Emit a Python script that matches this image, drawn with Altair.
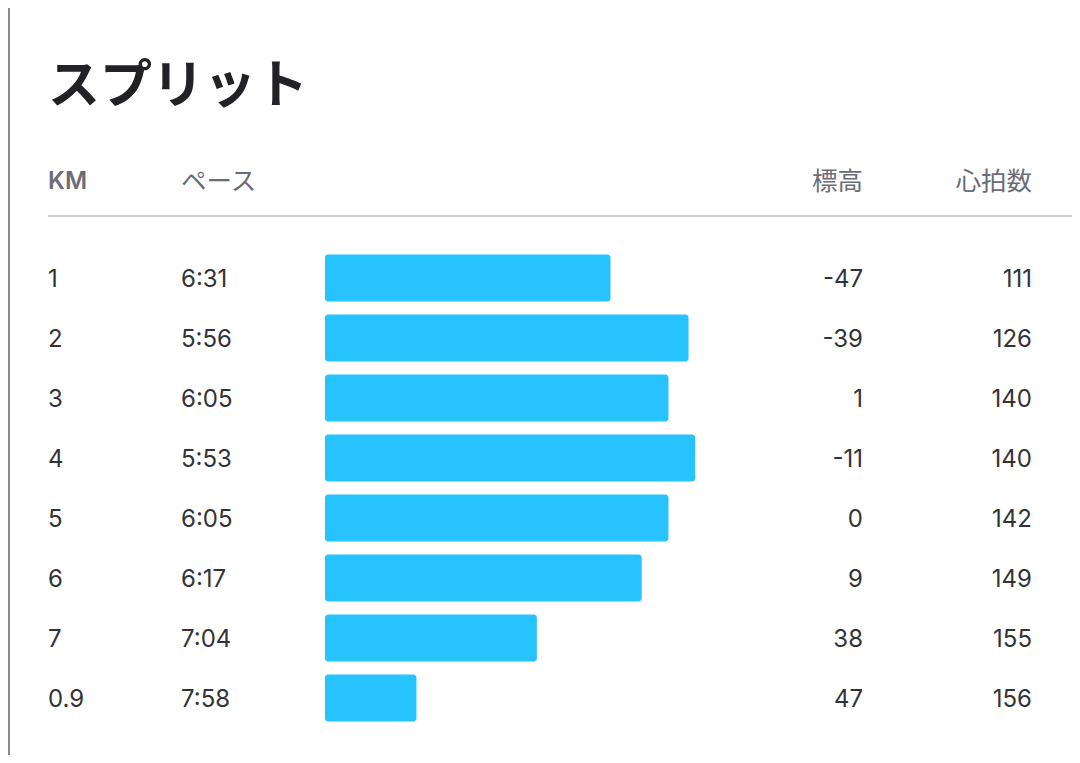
import altair as alt
import pandas as pd

# ---- data ----
km_labels = ["1", "2", "3", "4", "5", "6", "7", "0.9"]
pace_labels = ["6:31", "5:56", "6:05", "5:53", "6:05", "6:17", "7:04", "7:58"]
elevation = [-47, -39, 1, -11, 0, 9, 38, 47]
heart_rate = [111, 126, 140, 140, 142, 149, 155, 156]

title_text = "スプリット"
headers = ["KM", "ペース", "標高", "心拍数"]


def to_seconds(s):
    m, sec = s.split(":")
    return int(m) * 60 + int(sec)


pace_seconds = [to_seconds(p) for p in pace_labels]
BAR_BASE = 519  # pace (s) at which the bar would have zero length

df = pd.DataFrame({
    "row": list(range(len(km_labels))),
    "km": km_labels,
    "pace": pace_labels,
    "pace_s": pace_seconds,
    "elev": [str(e) for e in elevation],
    "hr": [str(h) for h in heart_rate],
})

W, H = 1064, 747
JP = "Noto Sans CJK JP"
NUM = "Inter"
TEXT_COL = "#333337"
HEAD_COL = "#6c6c76"

yscale = alt.Scale(domain=[0, 7], range=[270, 690])
xscale = alt.Scale(domain=[BAR_BASE, 300], range=[317, 805.4])

base = alt.Chart(df)

bars = base.mark_rect(color="#27c3fe", cornerRadius=3).transform_calculate(
    y0="datum.row - 0.392", y1="datum.row + 0.392", base=str(BAR_BASE)
).encode(
    x=alt.X("base:Q", scale=xscale, axis=None),
    x2="pace_s:Q",
    y=alt.Y("y0:Q", scale=yscale, axis=None),
    y2="y1:Q",
)


def col_text(field, xpos, align):
    return base.mark_text(
        font=NUM, fontSize=24, color=TEXT_COL, align=align, baseline="middle",
        dy=2
    ).encode(
        x=alt.value(xpos),
        y=alt.Y("row:Q", scale=yscale, axis=None),
        text=f"{field}:N",
    )


t_km = col_text("km", 40, "left")
t_pace = col_text("pace", 173, "left")
t_elev = col_text("elev", 855, "right")
t_hr = col_text("hr", 1024, "right")

head_df = pd.DataFrame({
    "label": headers,
    "xpos": [40, 173, 855, 1024],
    "align": ["left", "left", "right", "right"],
})


def header(i):
    d = pd.DataFrame({"label": [headers[i]]})
    is_km = headers[i] == "KM"
    return alt.Chart(d).mark_text(
        font=NUM if is_km else JP,
        fontSize=24 if is_km else 25.5,
        fontWeight=600 if is_km else "normal",
        color=HEAD_COL, align=head_df["align"][i], baseline="middle"
    ).encode(
        x=alt.value(float(head_df["xpos"][i])),
        y=alt.value(174),
        text="label:N",
    )


headers_layer = [header(i) for i in range(len(headers))]

title = alt.Chart(pd.DataFrame({"t": [title_text]})).mark_text(
    font=JP, fontSize=52, fontWeight="bold", color="#222226",
    align="left", baseline="alphabetic"
).encode(x=alt.value(40), y=alt.value(95), text="t:N")

rule = alt.Chart(pd.DataFrame({"a": [0]})).mark_rule(
    color="#cccccc", strokeWidth=2
).encode(x=alt.value(40), x2=alt.value(W), y=alt.value(208))

border = alt.Chart(pd.DataFrame({"a": [0]})).mark_rule(
    color="#8a8a8a", strokeWidth=2
).encode(x=alt.value(1), y=alt.value(0), y2=alt.value(H))

chart = alt.layer(
    border, title, *headers_layer, rule, bars, t_km, t_pace, t_elev, t_hr
).properties(
    width=W, height=H, padding=0,
    autosize=alt.AutoSizeParams(type="none"),
    background="white",
).configure_view(stroke=None)

chart.save("out.html", embed_options={"renderer": "svg", "actions": False})
